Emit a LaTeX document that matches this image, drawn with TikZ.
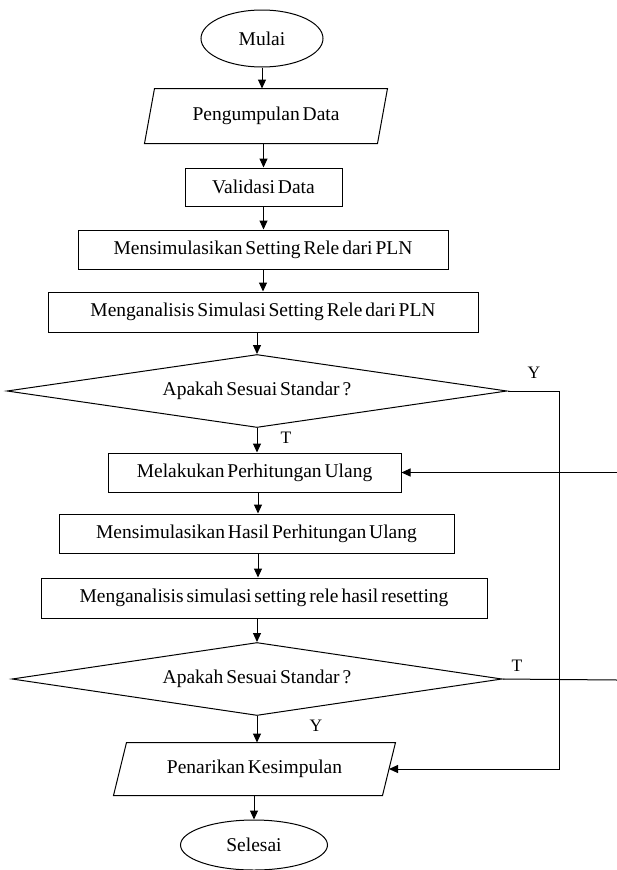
\documentclass[tikz,border=0pt]{standalone}
\usepackage{fontspec}
\setmainfont{Liberation Serif}[WordSpace=0.6]
\usetikzlibrary{shapes.geometric,arrows.meta}

\begin{document}
\begin{tikzpicture}[x=1pt,y=-1pt,
  base/.style={line width=1pt, inner sep=0pt, font=\fontsize{19.5}{21}\selectfont},
  procbox/.style={base, draw, rectangle, minimum width=#1},
  terminal/.style={base, draw, ellipse},
  iobox/.style={base, rectangle, minimum width=#1},
  decision/.style={base, draw, diamond, shape aspect=6.8},
  lbl/.style={inner sep=0pt, font=\fontsize{17.5}{18}\selectfont},
  wire/.style={line width=1pt},
  flow/.style={wire, -{Triangle[length=9pt,width=8pt]}},
]
\useasboundingbox (0,0) rectangle (617,870);

% --- nodes, top to bottom ---
\node[terminal, minimum width=122pt, minimum height=57pt] (start) at (262,38.5) {Mulai};
\node[iobox=232pt, minimum height=54pt] (pd) at (266,116) {Pengumpulan Data};
\node[procbox=157pt, minimum height=38pt] (vd) at (263.5,187) {Validasi Data};
\node[procbox=370pt, minimum height=39pt] (ms) at (263,249.5) {Mensimulasikan Setting Rele dari PLN};
\node[procbox=430pt, minimum height=40pt] (ma) at (263,312) {Menganalisis Simulasi Setting Rele dari PLN};
\node[decision, minimum width=500pt, minimum height=73pt] (d1) at (257,391) {Apakah Sesuai Standar ?};
\node[procbox=293pt, minimum height=39pt] (mp) at (254.5,472.5) {Melakukan Perhitungan Ulang};
\node[procbox=395pt, minimum height=39pt] (mh) at (256.5,533.5) {Mensimulasikan Hasil Perhitungan Ulang};
\node[procbox=446pt, minimum height=40pt] (mr) at (264,598) {Menganalisis simulasi setting rele hasil resetting};
\node[decision, minimum width=490pt, minimum height=73pt] (d2) at (257,679) {Apakah Sesuai Standar ?};
\node[iobox=268pt, minimum height=52pt] (pk) at (254.5,769) {Penarikan Kesimpulan};
\node[terminal, minimum width=147pt, minimum height=50pt] (end) at (254,845) {Selesai};

% --- parallelogram outlines for the data boxes ---
\draw[wire] ([xshift=5pt]pd.north west) -- ([xshift=5pt]pd.north east)
  -- ([xshift=-5pt]pd.south east) -- ([xshift=-5pt]pd.south west) -- cycle;
\draw[wire] ([xshift=6.5pt]pk.north west) -- ([xshift=6.5pt]pk.north east)
  -- ([xshift=-6.5pt]pk.south east) -- ([xshift=-6.5pt]pk.south west) -- cycle;

% --- branch labels ---
\node[lbl] (y1) at (534,373) {Y};
\node[lbl] (t1) at (286,438) {T};
\node[lbl] (t2) at (517,666) {T};
\node[lbl] (y2) at (316,726) {Y};

% --- main flow ---
\draw[flow] (start.south) -- (start.south |- pd.north);
\draw[flow] (vd.north |- pd.south) -- (vd.north);
\draw[flow] (vd.south) -- (vd.south |- ms.north);
\draw[flow] (ms.south) -- (ms.south |- ma.north);
\draw[flow] (d1.north |- ma.south) -- (d1.north);
\draw[flow] (d1.south) -- (d1.south |- mp.north);
\draw[flow] ([xshift=3.5pt]mp.south) -- ([xshift=3.5pt]mp.south |- mh.north);
\draw[flow] ([xshift=1.5pt]mh.south) -- ([xshift=1.5pt]mh.south |- mr.north);
\draw[flow] (d2.north |- mr.south) -- (d2.north);
\draw[flow] (d2.south) -- (d2.south |- pk.north);
\draw[flow] (end.north |- pk.south) -- (end.north);

% --- side branches ---
\coordinate (rail) at (559,0);
\draw[flow] (d1.east) -- (d1.east -| rail) -- (rail |- pk.east) -- (pk.east);
\coordinate (tOut) at (617,680);
\draw[wire] (d2.east) -- (tOut);
\coordinate (tIn) at (617,472.5);
\draw[flow] (tIn) -- (mp.east);
\end{tikzpicture}
\end{document}
